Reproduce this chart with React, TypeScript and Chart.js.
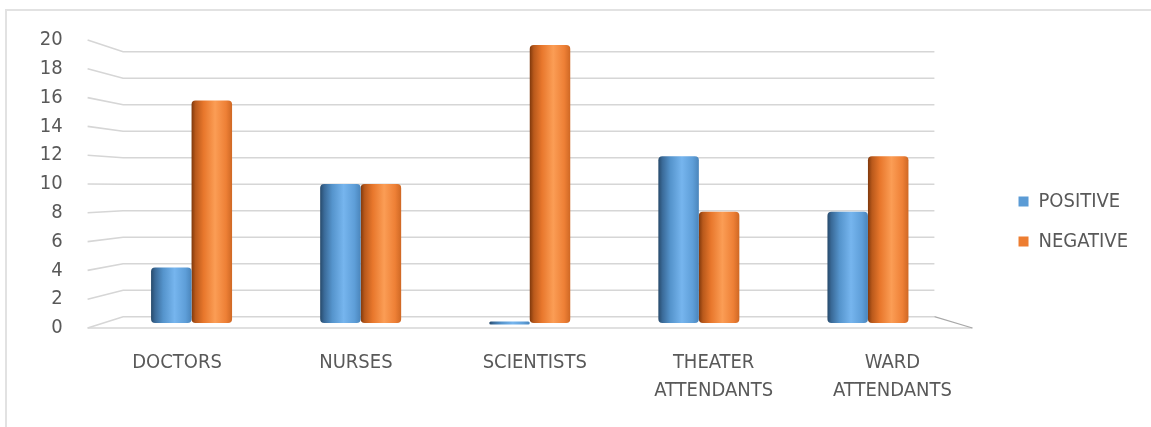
import React, { useEffect, useRef } from 'react';
import { Chart, registerables } from 'chart.js';

Chart.register(...registerables);

// ---------- data ----------
const categories: (string | string[])[] = ['DOCTORS', 'NURSES', 'SCIENTISTS', ['THEATER', 'ATTENDANTS'], ['WARD', 'ATTENDANTS']];
const seriesNames = ['POSITIVE', 'NEGATIVE'];
const positiveValues = [4, 10, 0, 12, 8];
const negativeValues = [16, 10, 20, 8, 12];
const yTickMin = 0;
const yTickMax = 20;
const yTickStep = 2;

// ---------- styles / geometry ----------
const W = 1151;
const H = 427;
const FONT = "'DejaVu Sans Condensed', 'Liberation Sans Narrow', 'DejaVu Sans', sans-serif";
const FONT_SIZE = 20;
const TEXT = '#595959';
const GRID = '#d6d6d6';
const FLOOR_EDGE = '#a8a8a8';
const CAT_PCT = 0.479;
const AREA = { left: 87.6, right: 981.4, top: 40, bottom: 328 };
const PAD_BOTTOM = 24;
const LEGEND_PAD = 20;
const LEGEND_BOX = 10;
const LEGEND_LEFT = 998;
const BAR_BASE = 323, BAR_TOP = 45;      // pixel of 0 and of max at bar depth
const BACK_BASE = 316.7, BACK_TOP = 51.7; // pixel of 0 and of max on back wall
const GROUP0 = 191.5, GROUP4 = 867.5;     // bar group centres of first/last category

function rangeFor(p0: number, pMax: number) {
  const unit = (p0 - pMax) / (yTickMax - yTickMin);
  return {
    min: yTickMin - (AREA.bottom - p0) / unit,
    max: yTickMax + (pMax - AREA.top) / unit,
  };
}
const xbUnit = (GROUP4 - GROUP0) / (categories.length - 1);
const xbRange = {
  min: -(GROUP0 - AREA.left) / xbUnit,
  max: categories.length - 1 + (AREA.right - GROUP4) / xbUnit,
};

const blueStops: [number, string][] = [
  [0, '#274a6b'], [0.1, '#3a6a98'], [0.3, '#5594cc'], [0.58, '#76b5ee'], [0.85, '#5e9ed8'], [1, '#4a85bb'],
];
const orangeStops: [number, string][] = [
  [0, '#7f380c'], [0.1, '#b9591b'], [0.3, '#e8772c'], [0.58, '#fb9d55'], [0.85, '#ee8036'], [1, '#cf6824'],
];

function barFill(stops: [number, string][], side: number, solid: string) {
  return (c: any) => {
    const chart = c.chart;
    const sc = chart.scales && chart.scales.xb;
    if (!chart.chartArea || !sc || c.dataIndex === undefined) return solid;
    const center = sc.getPixelForValue(c.dataIndex);
    const unit = sc.getPixelForValue(1) - sc.getPixelForValue(0);
    const bw = (unit * CAT_PCT) / 2;
    const left = side === 0 ? center - bw : center;
    const g = chart.ctx.createLinearGradient(left, 0, left + bw, 0);
    stops.forEach(([o, col]) => g.addColorStop(o, col));
    return g;
  };
}

const grid3d = {
  id: 'grid3d',
  beforeDatasetsDraw(chart: any) {
    const { ctx, chartArea } = chart;
    const front = chart.scales.y;
    const back = chart.scales.yBack;
    const fl = chartArea.left;
    const bl = fl + 35.5;
    const br = chartArea.right - 47.5;
    const fr = chartArea.right - 9.5;
    ctx.save();
    ctx.strokeStyle = GRID;
    ctx.lineWidth = 1.6;
    front.ticks.forEach((t: any) => {
      const yf = front.getPixelForValue(t.value);
      const yb = back.getPixelForValue(t.value);
      ctx.beginPath();
      ctx.moveTo(fl, yf);
      ctx.lineTo(bl, yb);
      ctx.lineTo(br, yb);
      ctx.stroke();
    });
    const yf0 = front.getPixelForValue(yTickMin);
    const yb0 = back.getPixelForValue(yTickMin);
    ctx.beginPath();
    ctx.moveTo(fl, yf0);
    ctx.lineTo(fr, yf0);
    ctx.stroke();
    ctx.strokeStyle = FLOOR_EDGE;
    ctx.lineWidth = 1.2;
    ctx.beginPath();
    ctx.moveTo(br, yb0);
    ctx.lineTo(fr, yf0);
    ctx.stroke();
    ctx.restore();
  },
};

export default function App() {
  const ref = useRef<HTMLCanvasElement>(null);

  useEffect(() => {
    if (!ref.current) return;
    const barRange = rangeFor(BAR_BASE, BAR_TOP);
    const backRange = rangeFor(BACK_BASE, BACK_TOP);

    // measure the widest legend text so the legend box starts where intended
    const mctx = ref.current.getContext('2d')!;
    mctx.save();
    mctx.font = `${FONT_SIZE}px ${FONT}`;
    const textW = Math.max(...seriesNames.map((s) => mctx.measureText(s).width));
    mctx.restore();
    const legendW = Math.ceil(LEGEND_PAD + LEGEND_BOX + FONT_SIZE / 2 + textW + 10);
    const padRight = Math.max(0, W - LEGEND_LEFT - legendW);

    const chart = new Chart(ref.current, {
      type: 'bar',
      data: {
        labels: categories as any,
        datasets: [
          {
            label: seriesNames[0],
            data: positiveValues.map((v, i) => ({ x: i, y: v })) as any,
            xAxisID: 'xb',
            yAxisID: 'yb',
            backgroundColor: barFill(blueStops, 0, '#5b9bd5') as any,
            categoryPercentage: CAT_PCT,
            barPercentage: 1,
            borderRadius: 4,
            borderSkipped: false,
            minBarLength: 3,
          },
          {
            label: seriesNames[1],
            data: negativeValues.map((v, i) => ({ x: i, y: v })) as any,
            xAxisID: 'xb',
            yAxisID: 'yb',
            backgroundColor: barFill(orangeStops, 1, '#ed7d31') as any,
            categoryPercentage: CAT_PCT,
            barPercentage: 1,
            borderRadius: 4,
            borderSkipped: false,
          },
        ],
      },
      options: {
        responsive: false,
        animation: false,
        layout: { padding: { left: 0, top: AREA.top, right: padRight, bottom: PAD_BOTTOM } },
        plugins: {
          legend: {
            position: 'right',
            align: 'center',
            labels: {
              boxWidth: LEGEND_BOX,
              boxHeight: LEGEND_BOX,
              padding: LEGEND_PAD,
              color: TEXT,
              font: { family: FONT, size: FONT_SIZE },
              generateLabels: (ch: any) =>
                ch.data.datasets.map((d: any, i: number) => ({
                  text: d.label,
                  fillStyle: i === 0 ? '#5b9bd5' : '#ed7d31',
                  strokeStyle: i === 0 ? '#5b9bd5' : '#ed7d31',
                  lineWidth: 0,
                  fontColor: TEXT,
                  datasetIndex: i,
                  hidden: false,
                })),
            },
          },
          tooltip: { enabled: false },
        },
        scales: {
          x: {
            type: 'category',
            position: 'bottom',
            offset: true,
            grid: { display: false, drawTicks: false },
            border: { display: false },
            ticks: {
              color: TEXT,
              font: { family: FONT, size: FONT_SIZE, lineHeight: 1.38 },
              padding: 21,
              maxRotation: 0,
              autoSkip: false,
            },
            afterFit: (s: any) => { s.height = H - PAD_BOTTOM - AREA.bottom; },
          },
          xb: {
            type: 'linear',
            position: 'bottom',
            display: false,
            offset: false,
            min: xbRange.min,
            max: xbRange.max,
            grid: { offset: false },
          },
          y: {
            type: 'linear',
            position: 'left',
            min: yTickMin,
            max: yTickMax,
            ticks: { stepSize: yTickStep, color: TEXT, font: { family: FONT, size: FONT_SIZE }, padding: 25 },
            grid: { display: false, drawTicks: false },
            border: { display: false },
            afterFit: (s: any) => { s.width = AREA.left; },
          },
          yb: { type: 'linear', position: 'left', display: false, min: barRange.min, max: barRange.max },
          yBack: { type: 'linear', position: 'left', display: false, min: backRange.min, max: backRange.max },
          yR: {
            type: 'linear',
            position: 'right',
            display: true,
            ticks: { display: false },
            grid: { display: false, drawTicks: false },
            border: { display: false },
            afterFit: (s: any) => { s.width = LEGEND_LEFT - AREA.right; },
          },
        } as any,
      },
      plugins: [grid3d],
    });
    return () => chart.destroy();
  }, []);

  return (
    <div style={{ position: 'fixed', left: 0, top: 0, width: W, height: H, background: '#fff', overflow: 'hidden' }}>
      <div
        style={{
          position: 'absolute', left: 5, top: 9, right: -10, bottom: -10,
          borderTop: '2px solid #e2e2e2', borderLeft: '2px solid #e2e2e2',
        }}
      />
      <canvas ref={ref} width={W} height={H} style={{ position: 'absolute', left: 0, top: 0 }} />
    </div>
  );
}
